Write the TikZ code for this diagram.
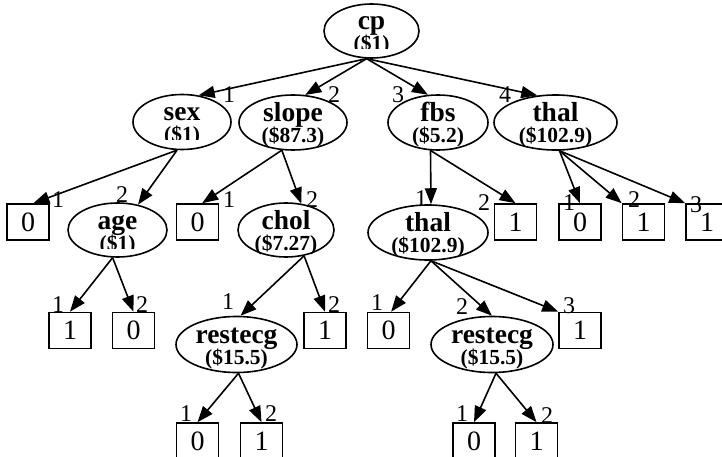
\documentclass[tikz,border=0pt]{standalone}
\usepackage{fontspec}
\setmainfont{Liberation Serif}
\usetikzlibrary{arrows.meta,shapes.geometric,calc}
\tikzset{
 tnode/.style={ellipse, draw, line width=1.6pt, inner sep=0pt},
 leaf/.style={rectangle, draw, line width=1.6pt, minimum width=42pt, minimum height=36pt, inner sep=0pt, font=\fontsize{28}{28}\selectfont},
 nm/.style={anchor=base, inner sep=0pt, font=\bfseries\fontsize{27.5}{27.5}\selectfont},
 sb/.style={anchor=base, inner sep=0pt, font=\bfseries\fontsize{21.5}{21.5}\selectfont},
 el/.style={inner sep=0pt, font=\fontsize{24}{24}\selectfont},
 arr/.style={line width=1.6pt, -{Triangle[length=16pt,width=12pt]}},
}
\newcommand{\tlabel}[3]{%
  \node[nm] (#1-n) at ($(#1)+(0,-1)$) {#2};
  \node[sb] (#1-s) at ($(#1)+(0,20)$) {#3};}
\newcommand{\tlabelcut}[3]{%
  \node[nm] (#1-n) at ($(#1)+(0,-1)$) {#2};
  \begin{scope}
  \clip ($(#1.west)+(0,-40)$) rectangle ($(#1.east)+(0,18)$);
  \node[sb] (#1-s) at ($(#1)+(0,20)$) {#3};
  \end{scope}}
\begin{document}
\begin{tikzpicture}[x=1pt,y=-1pt]
\useasboundingbox (0,0) rectangle (722,457);
% level 1
\node[tnode, minimum width=95pt, minimum height=54pt] (cp) at (371.5,31) {};
% level 2
\node[tnode, minimum width=98pt, minimum height=55pt] (sex) at (182,122) {};
\node[tnode, minimum width=108pt, minimum height=55pt] (slope) at (293,122.5) {};
\node[tnode, minimum width=100pt, minimum height=55pt] (fbs) at (438,122.5) {};
\node[tnode, minimum width=123pt, minimum height=55pt] (thalA) at (555.5,122.5) {};
% level 3
\node[leaf] (sex0) at (28,222) {0};
\node[tnode, minimum width=99pt, minimum height=54pt] (age) at (117.5,230) {};
\node[leaf] (slope0) at (197.5,222) {0};
\node[tnode, minimum width=96pt, minimum height=54pt] (chol) at (286,230) {};
\node[tnode, minimum width=120pt, minimum height=55pt] (thalB) at (428,232.5) {};
\node[leaf] (fbs1) at (515.5,222) {1};
\node[leaf] (thalA0) at (580,222) {0};
\node[leaf] (thalA1) at (643.5,222) {1};
\node[leaf] (thalA2) at (707,222) {1};
% level 4
\node[leaf] (age1) at (70,330.5) {1};
\node[leaf] (age0) at (133.5,330.5) {0};
\node[tnode, minimum width=121pt, minimum height=56pt] (restL) at (236.5,344.5) {};
\node[leaf] (chol1) at (325,330.5) {1};
\node[leaf] (thalB0) at (388.5,330.5) {0};
\node[tnode, minimum width=122pt, minimum height=56pt] (restR) at (492,344.5) {};
\node[leaf] (thalB1) at (580,330.5) {1};
% level 5
\node[leaf] (restL0) at (197.5,441) {0};
\node[leaf] (restL1) at (261.5,441) {1};
\node[leaf] (restR0) at (474,441) {0};
\node[leaf] (restR1) at (536.5,441) {1};
% texts in ellipses
\tlabelcut{cp}{cp}{(\$1)}
\tlabelcut{sex}{sex}{(\$1)}
\tlabel{slope}{slope}{(\$87.3)}
\tlabel{fbs}{fbs}{(\$5.2)}
\tlabel{thalA}{thal}{(\$102.9)}
\tlabelcut{age}{age}{(\$1)}
\tlabel{chol}{chol}{(\$7.27)}
\tlabel{thalB}{thal}{(\$102.9)}
\tlabel{restL}{restecg}{(\$15.5)}
\tlabel{restR}{restecg}{(\$15.5)}
% edges
\draw[arr] (cp.-100) -- (sex.58);
\draw[arr] (cp.-100) -- (slope.66);
\draw[arr] (cp.-100) -- (fbs.110);
\draw[arr] (cp.-100) -- (thalA.124);
\draw[arr] (sex.-100) -- (sex0.74);
\draw[arr] (sex.-100) -- (age.51);
\draw[arr] (slope.-112) -- (slope0.76);
\draw[arr] (slope.-112) -- (chol.60);
\draw[arr] (fbs.-105) -- (thalB.84);
\draw[arr] (fbs.-105) -- (fbs1.north);
\draw[arr] (thalA.-82) -- (thalA0.north);
\draw[arr] (thalA.-82) -- (thalA1.north west);
\draw[arr] (thalA.-82) -- (thalA2.north west);
\draw[arr] (age.-100) -- (age1.north);
\draw[arr] (age.-100) -- (age0.north);
\draw[arr] (chol.-55) -- (restL.82);
\draw[arr] (chol.-55) -- (chol1.north);
\draw[arr] (thalB.-84) -- (thalB0.82);
\draw[arr] (thalB.-84) -- (restR.north);
\draw[arr] (thalB.-84) -- (thalB1.north west);
\draw[arr] (restL.-86) -- (restL0.north);
\draw[arr] (restL.-86) -- (restL1.north);
\draw[arr] (restR.-82) -- (restR0.north);
\draw[arr] (restR.-82) -- (restR1.north);
% edge labels
\node[el] (e1) at (229,95) {1};
\node[el] (e2) at (334,95) {2};
\node[el] (e3) at (398,95) {3};
\node[el] (e4) at (505,95) {4};
\node[el] (e5) at (58,200) {1};
\node[el] (e6) at (122,195) {2};
\node[el] (e7) at (229,200) {1};
\node[el] (e8) at (312,200) {2};
\node[el] (e9) at (421,199) {1};
\node[el] (e10) at (484,203) {2};
\node[el] (e11) at (569,203) {1};
\node[el] (e12) at (634,200) {2};
\node[el] (e13) at (696,205) {3};
\node[el] (e14) at (58,305) {1};
\node[el] (e15) at (142,305) {2};
\node[el] (e16) at (228,302) {1};
\node[el] (e17) at (334,305) {2};
\node[el] (e18) at (377,303) {1};
\node[el] (e19) at (462,307) {2};
\node[el] (e20) at (569,306) {3};
\node[el] (e21) at (186,414) {1};
\node[el] (e22) at (271,414) {2};
\node[el] (e23) at (462,414) {1};
\node[el] (e24) at (547,416) {2};
\end{tikzpicture}
\end{document}
